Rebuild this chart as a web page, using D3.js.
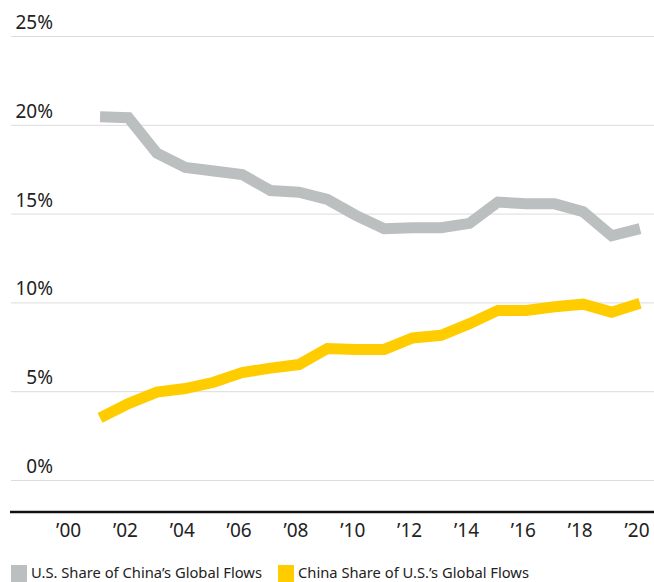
<!DOCTYPE html>
<html>
<head>
<meta charset="utf-8">
<script src="https://cdn.jsdelivr.net/npm/d3@7"></script>
<style>
  body { margin: 0; background: #fff; }
  svg { display: block; font-family: "Noto Sans", "Open Sans", sans-serif; }
</style>
</head>
<body>
<svg width="654" height="582"></svg>
<script>
const years = [2001, 2002, 2003, 2004, 2005, 2006, 2007, 2008, 2009, 2010,
               2011, 2012, 2013, 2014, 2015, 2016, 2017, 2018, 2019, 2020]
// U.S. share of China's global flows (%)
const usShareOfChina = [20.45, 20.4, 18.4, 17.6, 17.4, 17.2, 16.3, 16.2, 15.8, 14.9,
                        14.15, 14.2, 14.2, 14.45, 15.65, 15.55, 15.55, 15.1, 13.75, 14.15]
// China share of U.S.'s global flows (%)
const chinaShareOfUS = [3.5, 4.3, 4.95, 5.15, 5.5, 6.05, 6.3, 6.5, 7.4, 7.35,
                        7.35, 8.0, 8.15, 8.8, 9.55, 9.55, 9.75, 9.9, 9.45, 9.95]
const yTicks = [0, 5, 10, 15, 20, 25]
const xTicks = [2000, 2002, 2004, 2006, 2008, 2010, 2012, 2014, 2016, 2018, 2020]
const seriesNames = ["U.S. Share of China\u2019s Global Flows", "China Share of U.S.\u2019s Global Flows"]
const seriesColors = ["#bcbfbf", "#ffcc00"]

const svg = d3.select("svg")
const width = +svg.attr("width")

const x = d3.scaleLinear().domain([2000, 2020]).range([71.6, 640])
const y = d3.scaleLinear().domain([0, 25]).range([480, 36])

// gridlines + y labels
const grid = svg.append("g")
grid.selectAll("line")
  .data(yTicks)
  .enter()
  .append("line")
  .attr("x1", 11)
  .attr("x2", width)
  .attr("y1", d => y(d) + 0.5)
  .attr("y2", d => y(d) + 0.5)
  .attr("stroke", "#dcdcdc")
  .attr("stroke-width", 1)

grid.selectAll("text")
  .data(yTicks)
  .enter()
  .append("text")
  .attr("x", 53)
  .attr("y", d => y(d) - 7)
  .attr("text-anchor", "end")
  .attr("font-size", "19px")
  .attr("fill", "#222")
  .text(d => d + "%")

// x axis baseline and labels
svg.append("line")
  .attr("x1", 10)
  .attr("x2", width)
  .attr("y1", 512)
  .attr("y2", 512)
  .attr("stroke", "#111")
  .attr("stroke-width", 2.5)

svg.append("g").selectAll("text")
  .data(xTicks)
  .enter()
  .append("text")
  .attr("x", d => x(d) - 3)
  .attr("y", 537)
  .attr("text-anchor", "middle")
  .attr("font-size", "19px")
  .attr("fill", "#222")
  .text(d => "\u2019" + String(d).slice(2))

// lines
const line = d3.line()
  .x((d, i) => x(years[i]))
  .y(d => y(d))

const allSeries = [usShareOfChina, chinaShareOfUS]
svg.append("g").selectAll("path")
  .data(allSeries)
  .enter()
  .append("path")
  .attr("d", d => line(d))
  .attr("fill", "none")
  .attr("stroke", (d, i) => seriesColors[i])
  .attr("stroke-width", 11)
  .attr("stroke-linejoin", "miter")
  .attr("stroke-linecap", "butt")

// legend
const legendX = [11, 278]
const legend = svg.append("g").selectAll("g")
  .data(seriesNames)
  .enter()
  .append("g")
  .attr("transform", (d, i) => `translate(${legendX[i]},565)`)

legend.append("rect")
  .attr("width", 16)
  .attr("height", 17)
  .attr("fill", (d, i) => seriesColors[i])

legend.append("text")
  .attr("x", 20)
  .attr("y", 13)
  .attr("font-size", "15px")
  .attr("fill", "#222")
  .attr("textLength", 231)
  .attr("lengthAdjust", "spacingAndGlyphs")
  .text(d => d)
</script>
</body>
</html>
